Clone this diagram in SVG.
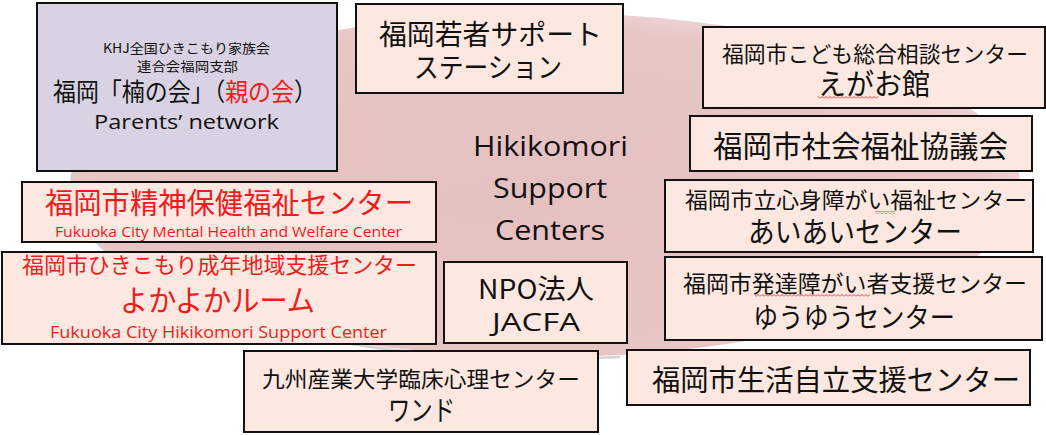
<svg xmlns="http://www.w3.org/2000/svg" width="1046" height="435" viewBox="0 0 1046 435">
<style>
.box{fill:#fce8e0;stroke:#111;stroke-width:2}
.khj{fill:#d8d2e2;stroke:#111;stroke-width:2}
.jp{font-family:"Noto Sans CJK JP","Liberation Sans",sans-serif;fill:#111}
.en{font-family:"Open Sans","Liberation Sans",sans-serif;fill:#111}
.red{fill:#ee1c1c}
.sq{fill:url(#squig)}
</style>
<defs>
<radialGradient id="disc" cx="0.45" cy="0.55" r="0.6">
<stop offset="0" stop-color="#e5c0c0"/>
<stop offset="0.85" stop-color="#e8c6c6"/>
<stop offset="1" stop-color="#efd8d8"/>
</radialGradient>
<pattern id="squig" patternUnits="userSpaceOnUse" width="4" height="3">
<polyline points="0,2.5 2,0.5 4,2.5" fill="none" stroke="#e0312b" stroke-width="0.9"/>
</pattern>
</defs>
<g id="background">
<ellipse cx="545" cy="185" rx="475" ry="172" fill="url(#disc)"/>
<path d="M 72 195 A 475 172 0 0 0 620 357" fill="none" stroke="#c9c9c9" stroke-width="2.5" opacity="0.8"/>
</g>
<g id="center-label">
<text class="en" x="473" y="156" font-size="28" textLength="155" lengthAdjust="spacingAndGlyphs">Hikikomori</text>
<text class="en" x="493" y="198" font-size="28" textLength="114" lengthAdjust="spacingAndGlyphs">Support</text>
<text class="en" x="495" y="240" font-size="28" textLength="110" lengthAdjust="spacingAndGlyphs">Centers</text>
</g>
<g id="khj">
<rect class="khj" x="37" y="3" width="300" height="168"/>
<text class="jp" x="103" y="53" font-size="13" textLength="167" lengthAdjust="spacingAndGlyphs">KHJ全国ひきこもり家族会</text>
<text class="jp" x="137" y="71" font-size="13" textLength="101" lengthAdjust="spacingAndGlyphs">連合会福岡支部</text>
<text class="jp" x="53" y="101" font-size="25" textLength="264" lengthAdjust="spacingAndGlyphs">福岡「楠の会」（<tspan class="red">親の会</tspan>）</text>
<text class="en" x="94" y="129" font-size="20" textLength="185" lengthAdjust="spacingAndGlyphs">Parents’ network</text>
</g>
<g id="wakamono">
<rect class="box" x="356" y="4" width="267" height="89"/>
<text class="jp" x="379" y="45" font-size="28" textLength="223" lengthAdjust="spacingAndGlyphs">福岡若者サポート</text>
<text class="jp" x="414" y="78" font-size="28" textLength="148" lengthAdjust="spacingAndGlyphs">ステーション</text>
</g>
<g id="egaokan">
<rect class="box" x="703" y="27" width="342" height="81"/>
<text class="jp" x="722" y="62" font-size="22" textLength="306" lengthAdjust="spacingAndGlyphs">福岡市こども総合相談センター</text>
<text class="jp" x="818" y="95" font-size="29" textLength="112" lengthAdjust="spacingAndGlyphs">えがお館</text>
<rect class="sq" x="818" y="96" width="60" height="3"/>
</g>
<g id="shakyo">
<rect class="box" x="690" y="116" width="342" height="55"/>
<text class="jp" x="713" y="157" font-size="30" textLength="295" lengthAdjust="spacingAndGlyphs">福岡市社会福祉協議会</text>
</g>
<g id="seishin">
<rect class="box" x="22" y="182" width="414" height="60"/>
<text class="jp red" x="45" y="214" font-size="29" textLength="368" lengthAdjust="spacingAndGlyphs">福岡市精神保健福祉センター</text>
<text class="en red" x="55" y="237" font-size="14" textLength="347" lengthAdjust="spacingAndGlyphs">Fukuoka City Mental Health and Welfare Center</text>
</g>
<g id="yokayoka">
<rect class="box" x="2" y="252" width="434" height="92"/>
<text class="jp red" x="22" y="273" font-size="22" textLength="395" lengthAdjust="spacingAndGlyphs">福岡市ひきこもり成年地域支援センター</text>
<text class="jp red" x="120" y="311" font-size="30" textLength="195" lengthAdjust="spacingAndGlyphs">よかよかルーム</text>
<text class="en red" x="50" y="338" font-size="16" textLength="337" lengthAdjust="spacingAndGlyphs">Fukuoka City Hikikomori Support Center</text>
</g>
<g id="npo">
<rect class="box" x="444" y="262" width="183" height="81"/>
<text class="jp" x="478" y="299" font-size="27" textLength="116" lengthAdjust="spacingAndGlyphs">NPO法人</text>
<text class="en" x="492" y="331" font-size="26" textLength="88" lengthAdjust="spacingAndGlyphs" font-family="Liberation Sans">JACFA</text>
</g>
<g id="aiai">
<rect class="box" x="665" y="180" width="368" height="72"/>
<text class="jp" x="685" y="208" font-size="22" textLength="342" lengthAdjust="spacingAndGlyphs">福岡市立心身障がい福祉センター</text>
<text class="jp" x="748" y="243" font-size="29" textLength="214" lengthAdjust="spacingAndGlyphs">あいあいセンター</text>
<rect class="sq" x="875" y="211" width="20" height="3"/>
</g>
<g id="yuyu">
<rect class="box" x="665" y="257" width="377" height="83"/>
<text class="jp" x="683" y="292" font-size="23" textLength="344" lengthAdjust="spacingAndGlyphs">福岡市発達障がい者支援センター</text>
<text class="jp" x="753" y="328" font-size="28" textLength="202" lengthAdjust="spacingAndGlyphs">ゆうゆうセンター</text>
<rect class="sq" x="755" y="294" width="115" height="3"/>
</g>
<g id="kyusan">
<rect class="box" x="244" y="351" width="354" height="81"/>
<text class="jp" x="262" y="387" font-size="22" textLength="318" lengthAdjust="spacingAndGlyphs">九州産業大学臨床心理センター</text>
<text class="jp" x="388" y="421" font-size="28" textLength="67" lengthAdjust="spacingAndGlyphs">ワンド</text>
</g>
<g id="seikatsu">
<rect class="box" x="627" y="350" width="403" height="55"/>
<text class="jp" x="652" y="391" font-size="29" textLength="368" lengthAdjust="spacingAndGlyphs">福岡市生活自立支援センター</text>
</g>
<g id="connectors"></g>
</svg>
